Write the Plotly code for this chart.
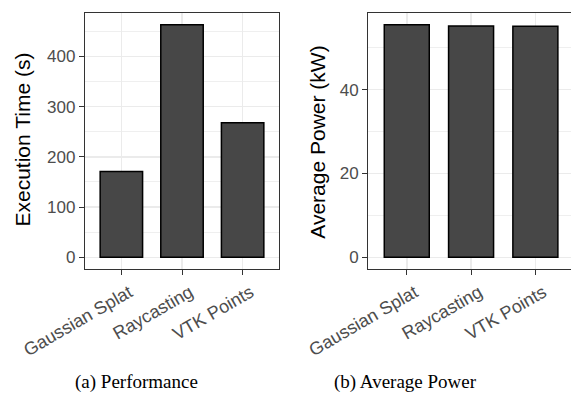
import plotly.graph_objects as go

methods = ["Gaussian Splat", "Raycasting", "VTK Points"]
exec_time = [171, 463, 268]
avg_power = [55.5, 55.2, 55.1]

W, H = 571, 394
FILL = "#474747"
GRID = "#EBEBEB"
BORDER = "#333333"
TICKC = "#4D4D4D"
SANS = "Liberation Sans, Arial, sans-serif"
SERIF = "Liberation Serif, Times New Roman, serif"

fig = go.Figure()
fig.add_trace(go.Bar(x=methods, y=exec_time, width=0.7, marker=dict(color=FILL, line=dict(color="black", width=1.5)),
                     xaxis="x", yaxis="y", showlegend=False))
fig.add_trace(go.Bar(x=methods, y=avg_power, width=0.7, marker=dict(color=FILL, line=dict(color="black", width=1.5)),
                     xaxis="x2", yaxis="y2", showlegend=False))

def px(v):
    return v / W

def py(v):
    return 1 - v / H

ydom = [py(269), py(13)]

common_x = dict(type="category", showgrid=True, gridcolor=GRID, gridwidth=1.6, ticks="outside", ticklen=5,
                tickcolor=BORDER, tickwidth=1, tickangle=-30, tickfont=dict(family=SANS, size=18, color=TICKC),
                ticklabelshift=8,
                showline=True, linecolor=BORDER, linewidth=1.2, zeroline=False, fixedrange=True, automargin=False)
common_y = dict(showgrid=True, gridcolor=GRID, gridwidth=1.6, ticks="outside", ticklen=5, tickcolor=BORDER,
                tickwidth=1, tickfont=dict(family=SANS, size=17, color=TICKC), showline=True, linecolor=BORDER,
                linewidth=1.2, zeroline=False, domain=ydom, fixedrange=True, automargin=False)

lmax = max(exec_time)
rmax = max(avg_power)

fig.update_layout(
    template="none",
    width=W, height=H,
    margin=dict(l=0, r=0, t=0, b=0, pad=0, autoexpand=False),
    paper_bgcolor="white", plot_bgcolor="white",
    bargap=0.3,
    xaxis=dict(common_x, domain=[px(85), px(279)], range=[-0.6, 2.6], mirror=True, anchor="y"),
    yaxis=dict(common_y, range=[-0.05 * lmax, 1.05 * lmax], dtick=100, mirror=True, anchor="x",
               minor=dict(dtick=50, showgrid=True, gridcolor=GRID, gridwidth=0.8)),
    xaxis2=dict(common_x, domain=[px(368.2), 1.0], range=[-0.6, 2.554], mirror=True, anchor="y2"),
    yaxis2=dict(common_y, range=[-0.05 * rmax, 1.05 * rmax], dtick=20, mirror=False, anchor="x2",
                minor=dict(dtick=10, showgrid=True, gridcolor=GRID, gridwidth=0.8)),
    annotations=[
        dict(text="Execution Time (s)", x=px(22.5), y=py(140), xref="paper", yref="paper", textangle=-90,
             showarrow=False, font=dict(family=SANS, size=21, color="black"), xanchor="center", yanchor="middle"),
        dict(text="Average Power (kW)", x=px(316.7), y=py(142), xref="paper", yref="paper", textangle=-90,
             showarrow=False, font=dict(family=SANS, size=21, color="black"), xanchor="center", yanchor="middle"),
        dict(text="(a) Performance", x=px(136), y=py(382), xref="paper", yref="paper", showarrow=False,
             font=dict(family=SERIF, size=19, color="black"), xanchor="center", yanchor="middle"),
        dict(text="(b) Average Power", x=px(405), y=py(382), xref="paper", yref="paper", showarrow=False,
             font=dict(family=SERIF, size=19, color="black"), xanchor="center", yanchor="middle"),
    ],
)

fig.write_html("out.html", config={"displayModeBar": False, "staticPlot": True},
               post_script="document.body.style.margin='0';document.body.style.overflow='hidden';")
